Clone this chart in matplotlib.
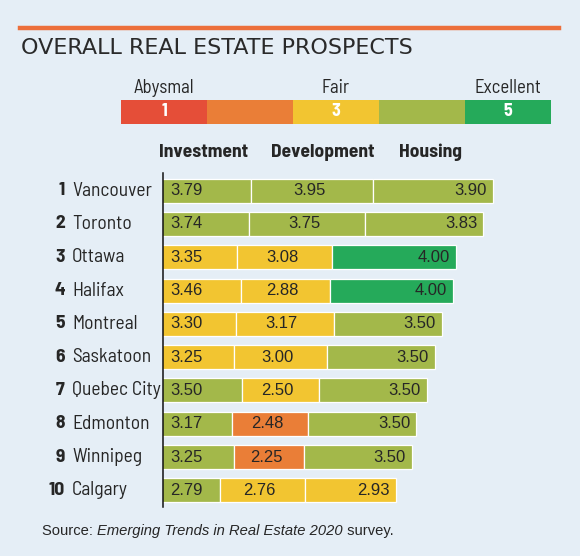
import matplotlib
matplotlib.use("Agg")
import matplotlib.pyplot as plt
from matplotlib.patches import Rectangle

# ---------------------------------------------------------------- data
cities = ["Vancouver", "Toronto", "Ottawa", "Halifax", "Montreal",
          "Saskatoon", "Quebec City", "Edmonton", "Winnipeg", "Calgary"]
ranks = [1, 2, 3, 4, 5, 6, 7, 8, 9, 10]
investment = [3.79, 3.74, 3.35, 3.46, 3.30, 3.25, 3.50, 3.17, 3.25, 2.79]
development = [3.95, 3.75, 3.08, 2.88, 3.17, 3.00, 2.50, 2.48, 2.25, 2.76]
housing = [3.90, 3.83, 4.00, 4.00, 3.50, 3.50, 3.50, 3.50, 3.50, 2.93]
# rating class used for the cell colour (1 abysmal .. 5 excellent)
investment_cls = [4, 4, 3, 3, 3, 3, 4, 4, 4, 4]
development_cls = [4, 4, 3, 3, 3, 3, 3, 2, 2, 3]
housing_cls = [4, 4, 5, 5, 4, 4, 4, 4, 4, 3]
columns = ["Investment", "Development", "Housing"]
scale_labels = {1: "Abysmal", 3: "Fair", 5: "Excellent"}

# ---------------------------------------------------------------- style
BG = "#e5eef6"
TXT = "#262626"
CLS_COLORS = {1: "#e54e38", 2: "#ea7e37", 3: "#f2c531", 4: "#a3b84a", 5: "#25aa5a"}
NARROW = ["Barlow Semi Condensed", "DejaVu Sans"]
SANS = ["Liberation Sans", "DejaVu Sans"]

W, H = 580, 556
fig = plt.figure(figsize=(W / 100, H / 100), dpi=100, facecolor=BG)


def fx(x):
    return x / W


def fy(y):
    return 1 - y / H


# top rule + title
fig.add_artist(plt.Line2D([fx(20), fx(559)], [fy(28), fy(28)], color="#ec6f3b", lw=3.2))
fig.text(fx(21), fy(47.5), "OVERALL REAL ESTATE PROSPECTS", family="DejaVu Sans",
         fontweight="normal", fontsize=16, color="#2a2a2a", va="center", ha="left")

# colour scale legend
x0, seg_w = 121, 86
for k in range(1, 6):
    left = x0 + (k - 1) * seg_w
    fig.add_artist(Rectangle((fx(left), fy(124)), fx(seg_w), 24 / H,
                             facecolor=CLS_COLORS[k], edgecolor="none"))
    if k in scale_labels:
        cx = fx(left + seg_w / 2)
        fig.text(cx, fy(112), str(k), family=NARROW, fontweight="bold", fontsize=13,
                 color="white", ha="center", va="center")
        fig.text(cx, fy(88), scale_labels[k], family=NARROW, fontsize=13.5,
                 color=TXT, ha="center", va="center")

# ---------------------------------------------------------------- bars
ax_left, ax_right, ax_top, ax_bot = 163, 560, 173, 507
ax = fig.add_axes([fx(ax_left), fy(ax_bot), fx(ax_right - ax_left), (ax_bot - ax_top) / H])
ax.set_facecolor("none")
px_per_unit = 30.9
xmin = 0.95
ax.set_xlim(xmin, xmin + (ax_right - ax_left) / px_per_unit)
ax.set_ylim(9.5, -0.53)

rows = range(len(cities))
series = [(investment, investment_cls), (development, development_cls), (housing, housing_cls)]
lefts = [0.0] * len(cities)
for j, (vals, cls) in enumerate(series):
    ax.barh(list(rows), vals, left=lefts, height=0.72,
            color=[CLS_COLORS[c] for c in cls], edgecolor="white", linewidth=0.9)
    for i in rows:
        if j == 0:
            ax.annotate(f"{vals[i]:.2f}", (xmin, i), xytext=(5, 0), textcoords="offset points",
                        ha="left", va="center", fontsize=12, family=SANS, color=TXT)
        elif j == 1:
            ax.annotate(f"{vals[i]:.2f}", (lefts[i] + vals[i] / 2, i), xytext=(-2, 0),
                        textcoords="offset points",
                        ha="center", va="center", fontsize=12, family=SANS, color=TXT)
        else:
            ax.annotate(f"{vals[i]:.2f}", (lefts[i] + vals[i], i), xytext=(-4.5, 0),
                        textcoords="offset points",
                        ha="right", va="center", fontsize=12, family=SANS, color=TXT)
    lefts = [l + v for l, v in zip(lefts, vals)]

for s in ["top", "right", "bottom"]:
    ax.spines[s].set_visible(False)
ax.spines["left"].set_color("#111111")
ax.spines["left"].set_linewidth(1.1)
ax.set_xticks([])
ax.set_yticks([])

# row labels
for i, (r, c) in enumerate(zip(ranks, cities)):
    y = ax.transData.transform((0, i))[1] / H
    fig.text(fx(65), y, str(r), family=NARROW, fontweight="bold", fontsize=14,
             color=TXT, ha="right", va="center")
    fig.text(fx(72), y, c, family=NARROW, fontsize=14, color=TXT, ha="left", va="center")

# column headers
for name, cx in zip(columns, [204, 323, 430]):
    fig.text(fx(cx), fy(152), name, family=NARROW, fontweight="bold", fontsize=14,
             color=TXT, ha="center", va="center")

# source line, pieced together
renderer = fig.canvas.get_renderer()
x = fx(42)
for txt, style in [("Source: ", "normal"), ("Emerging Trends in Real Estate 2020", "italic"),
                   (" survey.", "normal")]:
    t = fig.text(x, fy(531), txt, family=SANS, style=style, fontsize=10.6, color=TXT,
                 ha="left", va="center")
    x += t.get_window_extent(renderer).width / W

fig.savefig("out.png", dpi=100, facecolor=BG)
